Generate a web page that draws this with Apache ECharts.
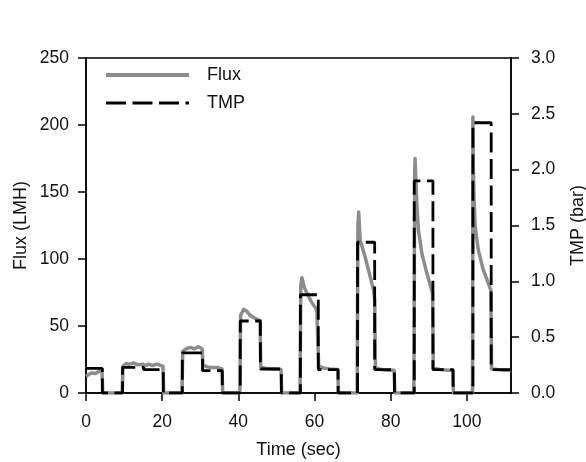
<!DOCTYPE html>
<html>
<head>
<meta charset="utf-8">
<script src="https://cdn.jsdelivr.net/npm/echarts@6/dist/echarts.min.js"></script>
<style>
html,body{margin:0;padding:0;background:#fff;}
#chart{width:586px;height:462px;}
</style>
</head>
<body>
<div id="chart"></div>
<script>
// ---- data ----
var xTicks = [0, 20, 40, 60, 80, 100];
var fluxTicks = [0, 50, 100, 150, 200, 250];
var tmpTicks = [0.0, 0.5, 1.0, 1.5, 2.0, 2.5, 3.0];

// Flux (LMH) vs time (sec)
var fluxTime = [0, 0.8, 1.5, 2.5, 3.3, 4.2, 4.4, 9.5, 9.7, 10.5, 11.5, 12.5, 13.5, 15.0, 15.3, 16.5, 17.5, 18.5, 20.2, 20.4,
  25.2, 25.4, 26.3, 27.5, 28.5, 29.5, 30.5, 30.7, 31.8, 33.0, 34.5, 35.7, 35.9,
  40.4, 40.6, 41.4, 42.2, 43.1, 44.2, 45.7, 45.9, 47.0, 48.5, 50.0, 51.2, 51.4,
  56.2, 56.4, 56.7, 57.3, 58.0, 59.2, 60.6, 60.9, 61.1, 62.5, 64.0, 66.1, 66.3,
  71.2, 71.4, 71.6, 72.0, 73.3, 74.6, 75.5, 75.8, 76.0, 77.5, 79.0, 80.9, 81.1,
  86.1, 86.3, 86.4, 86.9, 87.3, 88.2, 89.5, 91.0, 91.2, 93.0, 95.0, 96.3, 96.5,
  101.5, 101.6, 101.7, 101.9, 102.2, 103.0, 104.3, 106.3, 106.5, 108.0, 110.0, 111.6];
var fluxValue = [12.5, 14, 15, 14.5, 16, 16, 0, 0, 20, 22, 21.5, 22.5, 21, 21.5, 20, 21.5, 20.5, 21.5, 20, 0,
  0, 31, 33, 34, 33, 34.5, 33, 21, 19.5, 19, 19, 18, 0,
  0, 58, 62.5, 61, 58, 56, 54, 19.5, 18.5, 18, 18, 17.5, 0,
  0, 80, 86, 79, 74.5, 68, 62, 61, 20, 18.5, 18, 17.5, 0,
  0, 125, 135, 114, 101.5, 87, 77, 70, 19, 17.5, 17, 17, 0,
  0, 160, 175, 139, 121.5, 104, 89.5, 74.5, 18.5, 17.5, 17, 17, 0,
  0, 206, 169, 144, 124, 107, 92, 77, 18, 17.5, 17, 17];

// TMP (bar) vs time (sec), corner points of the step profile
var tmpTime = [0, 4.3, 4.3, 9.6, 9.6, 15.1, 15.1, 20.3, 20.3, 25.3, 25.3, 30.6, 30.6, 35.8, 35.8,
  40.5, 40.5, 45.8, 45.8, 51.3, 51.3, 56.3, 56.3, 61.0, 61.0, 66.2, 66.2, 71.3, 71.3, 75.8, 75.8,
  81.0, 81.0, 86.2, 86.2, 91.1, 91.1, 96.4, 96.4, 101.6, 101.6, 106.4, 106.4, 111.6];
var tmpValue = [0.22, 0.22, 0, 0, 0.23, 0.23, 0.21, 0.21, 0, 0, 0.36, 0.36, 0.20, 0.20, 0,
  0, 0.645, 0.645, 0.215, 0.215, 0, 0, 0.88, 0.88, 0.21, 0.21, 0, 0, 1.35, 1.35, 0.21,
  0.21, 0, 0, 1.90, 1.90, 0.21, 0.21, 0, 0, 2.42, 2.42, 0.21, 0.21];

function pairs(xs, ys) { return xs.map(function (x, i) { return [x, ys[i]]; }); }

var FONT = '"Liberation Sans", Arial, sans-serif';
var FS = 17.5;
var FN = 18;
var TXT = '#111';
var axisLineStyle = { color: '#000', width: 1.5 };
var FLUX_COLOR = '#8c8c8c';
var NONE = 'rgba(0,0,0,0)';

var chart = echarts.init(document.getElementById('chart'), null, { renderer: 'canvas' });
chart.setOption({
  animation: false,
  backgroundColor: '#fff',
  textStyle: { fontFamily: FONT },
  grid: { left: 86, right: 75, top: 58, bottom: 69, show: true, borderColor: '#000', borderWidth: 1.5,
    containLabel: false, outerBoundsMode: 'none' },
  legend: {
    orient: 'vertical', left: 104, top: 66, padding: 0,
    itemWidth: 83, itemHeight: 14, itemGap: 10,
    itemStyle: { color: NONE, borderColor: NONE, borderWidth: 0 },
    textStyle: { fontFamily: FONT, fontSize: FN, color: TXT, padding: [0, 0, 0, 13] },
    data: [
      { name: 'Flux', lineStyle: { width: 4, color: FLUX_COLOR }, itemStyle: { color: NONE, borderColor: NONE, borderWidth: 0 } },
      { name: 'TMP', lineStyle: { width: 3, color: '#000', type: [20, 6.5] }, itemStyle: { color: NONE, borderColor: NONE, borderWidth: 0 } }
    ]
  },
  xAxis: {
    type: 'value', min: 0, max: 111.6,
    name: 'Time (sec)', nameLocation: 'middle', nameGap: 48, nameMoveOverlap: false,
    nameTextStyle: { fontFamily: FONT, fontSize: FN, color: TXT },
    axisLine: { show: true, lineStyle: axisLineStyle },
    axisTick: { show: true, inside: false, length: 8, lineStyle: axisLineStyle, customValues: xTicks },
    axisLabel: { fontFamily: FONT, fontSize: FS, color: TXT, margin: 20, customValues: xTicks,
      formatter: function (v) { return xTicks.indexOf(v) >= 0 ? String(v) : ''; } },
    splitLine: { show: false }
  },
  yAxis: [{
    type: 'value', min: 0, max: 250, interval: 50, position: 'left',
    name: 'Flux (LMH)', nameLocation: 'middle', nameGap: 56, nameRotate: 90, nameMoveOverlap: false,
    nameTextStyle: { fontFamily: FONT, fontSize: FN, color: TXT },
    axisLine: { show: true, lineStyle: axisLineStyle },
    axisTick: { show: true, inside: false, length: 8, lineStyle: axisLineStyle },
    axisLabel: { fontFamily: FONT, fontSize: FS, color: TXT, margin: 17,
      formatter: function (v) { return fluxTicks.indexOf(v) >= 0 ? String(v) : ''; } },
    splitLine: { show: false }
  }, {
    type: 'value', min: 0, max: 3, interval: 0.5, position: 'right',
    name: 'TMP (bar)', nameLocation: 'middle', nameGap: 58, nameRotate: 90, nameMoveOverlap: false,
    nameTextStyle: { fontFamily: FONT, fontSize: FN, color: TXT },
    axisLine: { show: true, lineStyle: axisLineStyle },
    axisTick: { show: true, inside: false, length: 8, lineStyle: axisLineStyle },
    axisLabel: { fontFamily: FONT, fontSize: FS, color: TXT, margin: 20,
      formatter: function (v) { return tmpTicks.indexOf(v) >= 0 ? v.toFixed(1) : ''; } },
    splitLine: { show: false }
  }],
  series: [{
    name: 'Flux', type: 'line', yAxisIndex: 0, symbol: 'none', showSymbol: false,
    data: pairs(fluxTime, fluxValue),
    lineStyle: { color: FLUX_COLOR, width: 3.5, join: 'round' },
    itemStyle: { color: FLUX_COLOR }
  }, {
    name: 'TMP', type: 'line', yAxisIndex: 1, symbol: 'none', showSymbol: false,
    data: pairs(tmpTime, tmpValue),
    lineStyle: { color: '#000', width: 2.8, type: [20, 6.5] },
    itemStyle: { color: '#000' }
  }]
});
</script>
</body>
</html>
